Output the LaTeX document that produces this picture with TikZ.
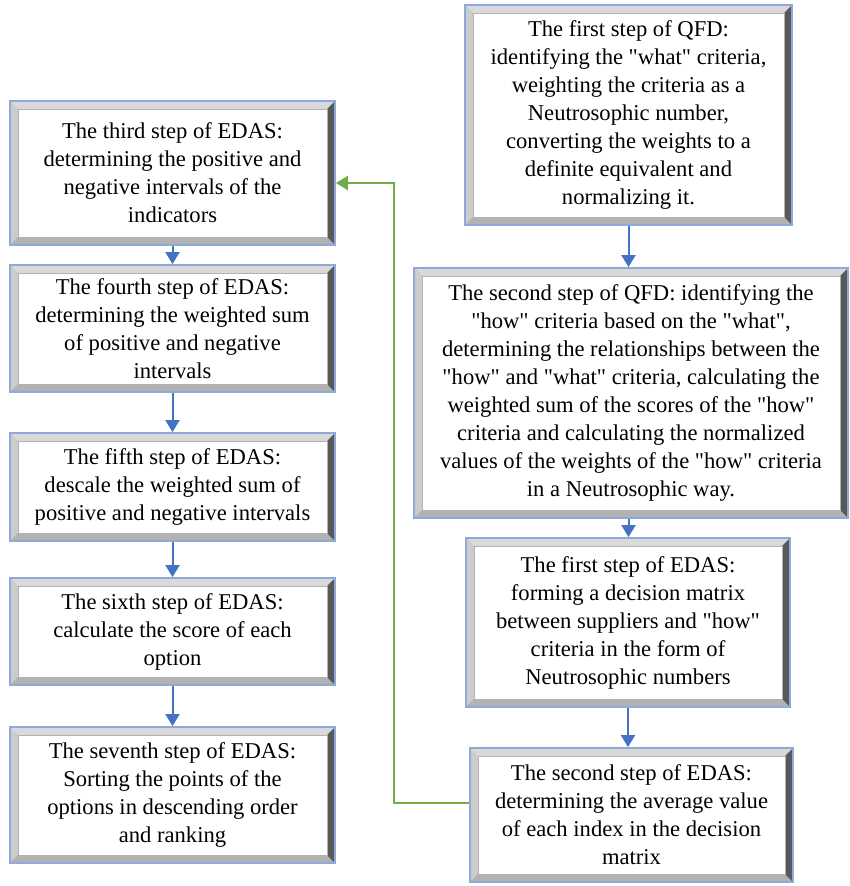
\documentclass[tikz,border=0pt]{standalone}
\usepackage{fontspec}
\setmainfont{Liberation Serif}[Ligatures=TeXOff]
\usetikzlibrary{arrows.meta,calc}
\definecolor{edgeblue}{HTML}{8EAADB}
\definecolor{arrowblue}{HTML}{4472C4}
\definecolor{arrowgreen}{HTML}{70AD47}
\tikzset{
  stepbox/.style={draw=edgeblue, line width=1.8pt, fill=gray!50, inner sep=0pt,
    align=center, font=\fontsize{22.6}{28}\selectfont, text=black,
    path picture={
      \coordinate (SW) at (path picture bounding box.south west);
      \coordinate (NE) at (path picture bounding box.north east);
      \coordinate (NW) at (SW|-NE); \coordinate (SE) at (NE|-SW);
      \coordinate (sw) at ($(SW)+(8pt,8pt)$);
      \coordinate (ne) at ($(NE)+(-8pt,-8pt)$);
      \coordinate (nw) at (sw|-ne); \coordinate (se) at (ne|-sw);
      \fill[gray!30] (NW)--(NE)--(ne)--(nw)--cycle;
      \fill[gray!40] (NW)--(SW)--(sw)--(nw)--cycle;
      \fill[gray!60] (SW)--(SE)--(se)--(sw)--cycle;
      \fill[gray!70!black] (NE)--(SE)--(se)--(ne)--cycle;
      \fill[white] (sw) rectangle (ne);
      \draw[gray!60, line width=0.6pt] (sw) rectangle (ne);
    }},
  flowarrow/.style={draw=arrowblue, line width=2pt, -{Triangle[length=12pt,width=14pt]}},
  backarrow/.style={draw=arrowgreen, line width=2pt, -{Triangle[length=12pt,width=14pt]}}
}
\begin{document}
\begin{tikzpicture}[x=1pt,y=-1pt]
\useasboundingbox[fill=white] (0,0) rectangle (849,886);
% left column
\node[stepbox, minimum width=325pt, minimum height=144pt] (b3) at (172.5,173)
  {The third step of EDAS:\\determining the positive and\\negative intervals of the\\indicators};
\node[stepbox, minimum width=325pt, minimum height=127pt] (b4) at (172.5,328.5)
  {The fourth step of EDAS:\\determining the weighted sum\\of positive and negative\\intervals};
\node[stepbox, minimum width=325pt, minimum height=108pt] (b5) at (172.5,487)
  {The fifth step of EDAS:\\descale the weighted sum of\\positive and negative intervals};
\node[stepbox, minimum width=325pt, minimum height=107pt] (b6) at (172.5,631.5)
  {The sixth step of EDAS:\\calculate the score of each\\option};
\node[stepbox, minimum width=325pt, minimum height=136pt] (b7) at (172.5,795)
  {The seventh step of EDAS:\\Sorting the points of the\\options in descending order\\and ranking};
% right column
\node[stepbox, minimum width=327pt, minimum height=220pt] (q1) at (628.5,115)
  {The first step of QFD:\\identifying the "what" criteria,\\weighting the criteria as a\\Neutrosophic number,\\converting the weights to a\\definite equivalent and\\normalizing it.};
\node[stepbox, minimum width=434pt, minimum height=250pt] (q2) at (631,393)
  {The second step of QFD: identifying the\\"how" criteria based on the "what",\\determining the relationships between the\\"how" and "what" criteria, calculating the\\weighted sum of the scores of the "how"\\criteria and calculating the normalized\\values of the weights of the "how" criteria\\in a Neutrosophic way.};
\node[stepbox, minimum width=324pt, minimum height=169pt] (e1) at (628,622.5)
  {The first step of EDAS:\\forming a decision matrix\\between suppliers and "how"\\criteria in the form of\\Neutrosophic numbers};
\node[stepbox, minimum width=323pt, minimum height=134pt] (e2) at (631.5,815)
  {The second step of EDAS:\\determining the average value\\of each index in the decision\\matrix};
% arrows
\draw[flowarrow] (b3.south) -- (b4.north);
\draw[flowarrow] (b4.south) -- (b5.north);
\draw[flowarrow] (b5.south) -- (b6.north);
\draw[flowarrow] (b6.south) -- (b7.north);
\draw[flowarrow] (q1.south) -- (q1.south |- q2.north);
\draw[flowarrow] (q1.south |- q2.south) -- (q1.south |- e1.north);
\draw[flowarrow] (e1.south) -- (e1.south |- e2.north);
\coordinate (g1) at (394,183);
\draw[backarrow] (e2.west |- 0,803) -| (g1) -- (b3.east |- g1);
\end{tikzpicture}
\end{document}
